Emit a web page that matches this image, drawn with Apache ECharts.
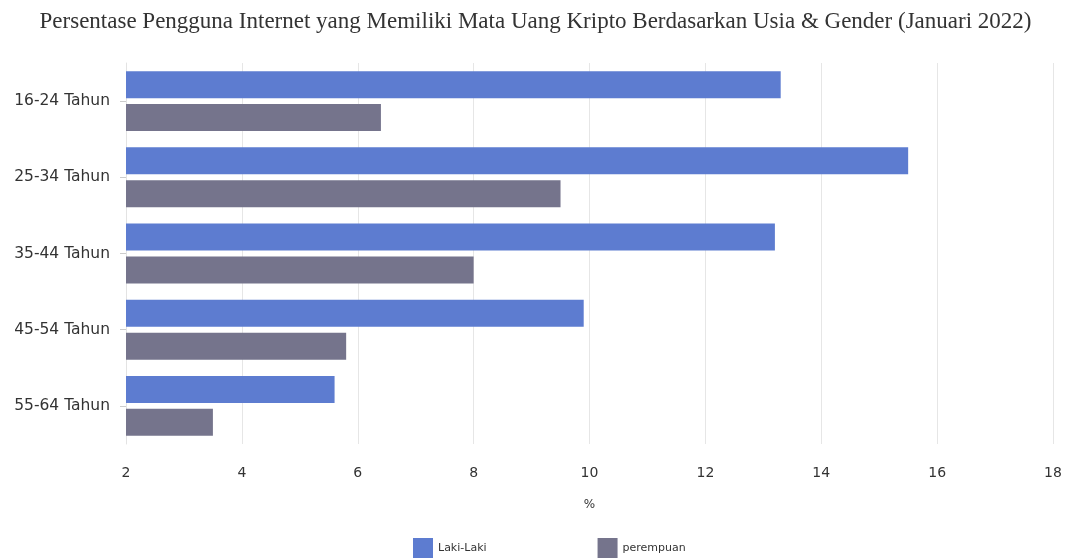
<!DOCTYPE html>
<html><head><meta charset="utf-8">
<script src="https://cdn.jsdelivr.net/npm/echarts@6/dist/echarts.min.js"></script>
<style>html,body{margin:0;padding:0;background:#fff}#c{width:1071px;height:559px}</style>
</head><body><div id="c"></div>
<script>
const categories = ['16-24 Tahun','25-34 Tahun','35-44 Tahun','45-54 Tahun','55-64 Tahun'];
const lakiLaki = [13.3, 15.5, 13.2, 9.9, 5.6];
const perempuan = [6.4, 9.5, 8.0, 5.8, 3.5];
const seriesNames = ['Laki-Laki','perempuan'];
const xTicks = {min: 2, max: 18, interval: 2};

const chart = echarts.init(document.getElementById('c'));
chart.setOption({
  animation: false,
  title: {
    text: 'Persentase Pengguna Internet yang Memiliki Mata Uang Kripto Berdasarkan Usia & Gender (Januari 2022)',
    left: 'center', top: 5,
    textStyle: {fontFamily: 'Liberation Serif', fontSize: 23, fontWeight: 'normal', color: '#333'}
  },
  legend: {
    left: 408, top: 533, itemWidth: 20, itemHeight: 20, itemGap: 111,
    icon: 'rect',
    textStyle: {fontFamily: 'DejaVu Sans', fontSize: 11, color: '#333'},
    data: seriesNames
  },
  grid: {left: 126, right: 18, top: 63, bottom: 115, containLabel: false},
  xAxis: {
    type: 'value', min: xTicks.min, max: xTicks.max, interval: xTicks.interval,
    name: '%', nameLocation: 'middle', nameGap: 55,
    nameTextStyle: {fontFamily: 'DejaVu Sans', fontSize: 12, color: '#333'},
    axisLine: {show: false}, axisTick: {show: false},
    axisLabel: {fontFamily: 'DejaVu Sans', fontSize: 14, color: '#333', margin: 22},
    splitLine: {show: true, lineStyle: {color: '#e6e6e6'}}
  },
  yAxis: {
    type: 'category', data: categories, inverse: true,
    axisLine: {show: true, lineStyle: {color: '#e3e3e3'}},
    axisTick: {show: true, alignWithLabel: true, length: 6, lineStyle: {color: '#ccc'}},
    axisLabel: {fontFamily: 'DejaVu Sans', fontSize: 15.5, color: '#333', margin: 16}
  },
  series: [
    {name: seriesNames[0], type: 'bar', data: lakiLaki, barWidth: 27, barGap: '22%',
     itemStyle: {color: '#5d7cd0'}},
    {name: seriesNames[1], type: 'bar', data: perempuan, barWidth: 27, barGap: '22%',
     itemStyle: {color: '#75748c'}}
  ]
});
</script></body></html>
